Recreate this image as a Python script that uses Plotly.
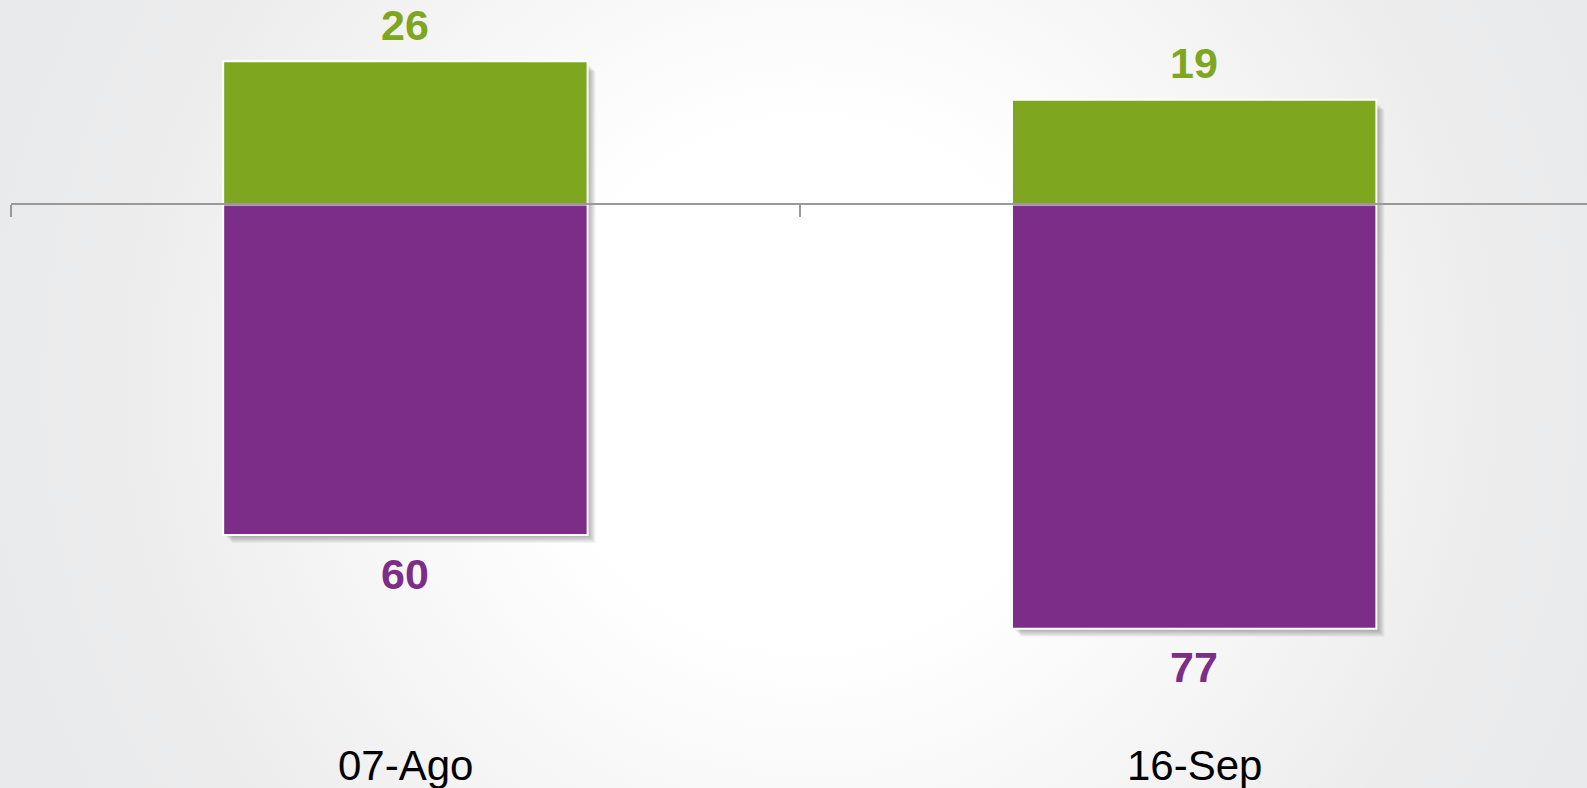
import base64
import plotly.graph_objects as go

categories = ["07-Ago", "16-Sep"]
positive_values = [26, 19]
negative_values = [-60, -77]

GREEN = "#7EA61E"
PURPLE = "#7B2D87"

W, H = 1587, 788
ML, MR, MT, MB = 11, 0, 0, 0
Y_RANGE = [-105.9, 37.1]
X_RANGE = [-0.5, 1.498]
BAR_W = 0.462

fig = go.Figure()

# soft drop shadow (offset down-right, in pixels converted to axis units)
pw = W - ML - MR
ph = H - MT - MB
px_x = (X_RANGE[1] - X_RANGE[0]) / pw
px_y = (Y_RANGE[1] - Y_RANGE[0]) / ph
for i, (p, n) in enumerate(zip(positive_values, negative_values)):
    for k in range(1, 9):
        fig.add_shape(
            type="rect", xref="x", yref="y", layer="below",
            x0=i - BAR_W / 2 + (k + 1) * px_x, x1=i + BAR_W / 2 + k * px_x,
            y0=n - k * px_y, y1=p - (k + 2) * px_y,
            fillcolor="rgba(0,0,0,0.045)", line_width=0,
        )

fig.add_trace(go.Bar(
    x=categories, y=positive_values, marker_color=GREEN,
    marker_line=dict(color="white", width=2), width=BAR_W, hoverinfo="skip",
))
fig.add_trace(go.Bar(
    x=categories, y=negative_values, marker_color=PURPLE,
    marker_line=dict(color="white", width=2), width=BAR_W, hoverinfo="skip",
))

for c, p, n in zip(categories, positive_values, negative_values):
    fig.add_annotation(x=c, y=p, text="<b>%d</b>" % p, showarrow=False,
                       yanchor="middle", yshift=36.5,
                       font=dict(size=43, color=GREEN, family="Liberation Sans, Arial"))
    fig.add_annotation(x=c, y=n, text="<b>%d</b>" % abs(n), showarrow=False,
                       yanchor="middle", yshift=-38.5,
                       font=dict(size=43, color=PURPLE, family="Liberation Sans, Arial"))
    fig.add_annotation(x=c, y=0.0285, yref="paper", text=c, showarrow=False,
                       yanchor="middle",
                       font=dict(size=42, color="black", family="Liberation Sans, Arial"))

svg = f'''<svg xmlns="http://www.w3.org/2000/svg" width="{W}" height="{H}" viewBox="0 0 {W} {H}">
<defs><radialGradient id="r" gradientUnits="userSpaceOnUse" cx="810" cy="385" r="870">
<stop offset="0" stop-color="#ffffff"/><stop offset="0.3" stop-color="#ffffff"/>
<stop offset="0.55" stop-color="#f6f6f6"/><stop offset="0.8" stop-color="#ececed"/>
<stop offset="1" stop-color="#e9eaeb"/></radialGradient></defs>
<rect width="{W}" height="{H}" fill="url(#r)"/>
</svg>'''
src = "data:image/svg+xml;base64," + base64.b64encode(svg.encode()).decode()
fig.add_layout_image(dict(
    source=src, xref="paper", yref="paper",
    x=-ML / pw, y=1 + MT / ph, sizex=W / pw, sizey=H / ph,
    xanchor="left", yanchor="top", sizing="stretch", layer="below",
))

zero_pos = (0 - Y_RANGE[0]) / (Y_RANGE[1] - Y_RANGE[0])
fig.update_layout(
    width=W, height=H, barmode="relative", showlegend=False,
    margin=dict(l=ML, r=MR, t=MT, b=MB),
    paper_bgcolor="#e9eaeb", plot_bgcolor="rgba(0,0,0,0)",
    xaxis=dict(
        type="category", range=X_RANGE, showgrid=False, zeroline=False,
        showline=True, linecolor="#999999", linewidth=2,
        ticks="outside", ticklen=12, tickwidth=2, tickcolor="#999999",
        tickson="boundaries", showticklabels=False,
        anchor="free", position=zero_pos,
    ),
    yaxis=dict(range=Y_RANGE, visible=False, showgrid=False, zeroline=False),
)

fig.write_html(
    "out.html",
    config={"displayModeBar": False},
    post_script="document.body.style.margin='0';",
)
